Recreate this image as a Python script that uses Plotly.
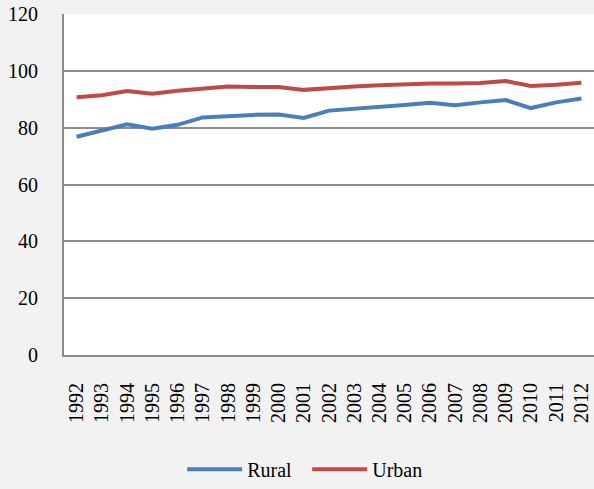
import plotly.graph_objects as go

years = [str(y) for y in range(1992, 2013)]
rural = [76.8, 79.1, 81.2, 79.6, 81.0, 83.6, 84.2, 84.5, 84.6, 83.4, 86.0,
         86.6, 87.3, 88.0, 88.8, 87.9, 88.9, 89.7, 86.9, 88.9, 90.3]
urban = [90.7, 91.4, 92.9, 91.9, 93.0, 93.8, 94.5, 94.3, 94.3, 93.3, 94.0,
         94.5, 94.9, 95.3, 95.5, 95.5, 95.7, 96.4, 94.7, 95.1, 95.8]

font_family = "Liberation Serif"
grid_color = "#8c8c8c"

fig = go.Figure()
fig.add_trace(go.Scatter(x=years, y=rural, name="Rural", mode="lines",
                         line=dict(color="#4a7ebb", width=4)))
fig.add_trace(go.Scatter(x=years, y=urban, name="Urban", mode="lines",
                         line=dict(color="#be4b48", width=4)))

fig.update_layout(
    template="none",
    width=594, height=489,
    margin=dict(l=64, r=0, t=14, b=132),
    paper_bgcolor="#f2f2f2",
    plot_bgcolor="#ffffff",
    font=dict(family=font_family, size=20, color="#000000"),
    showlegend=True,
    legend=dict(orientation="h", x=0.223, xanchor="left",
                y=-0.335, yanchor="middle",
                itemwidth=55, entrywidth=55, entrywidthmode="pixels",
                font=dict(family=font_family, size=20),
                bgcolor="rgba(0,0,0,0)"),
)
fig.update_xaxes(
    type="category", range=[-0.5, len(years) - 0.5], tickangle=-90,
    showgrid=False,
    showline=True, linecolor=grid_color, linewidth=2,
    ticks="", ticklabelstandoff=18,
    tickfont=dict(family=font_family, size=20),
)
fig.update_yaxes(
    range=[0, 120], dtick=20, tick0=0,
    showgrid=True, gridcolor=grid_color, gridwidth=1.5,
    showline=True, linecolor=grid_color, linewidth=2,
    zeroline=False, ticks="", ticklabelstandoff=20,
    tickfont=dict(family=font_family, size=20),
)

fig.write_html("out.html")
